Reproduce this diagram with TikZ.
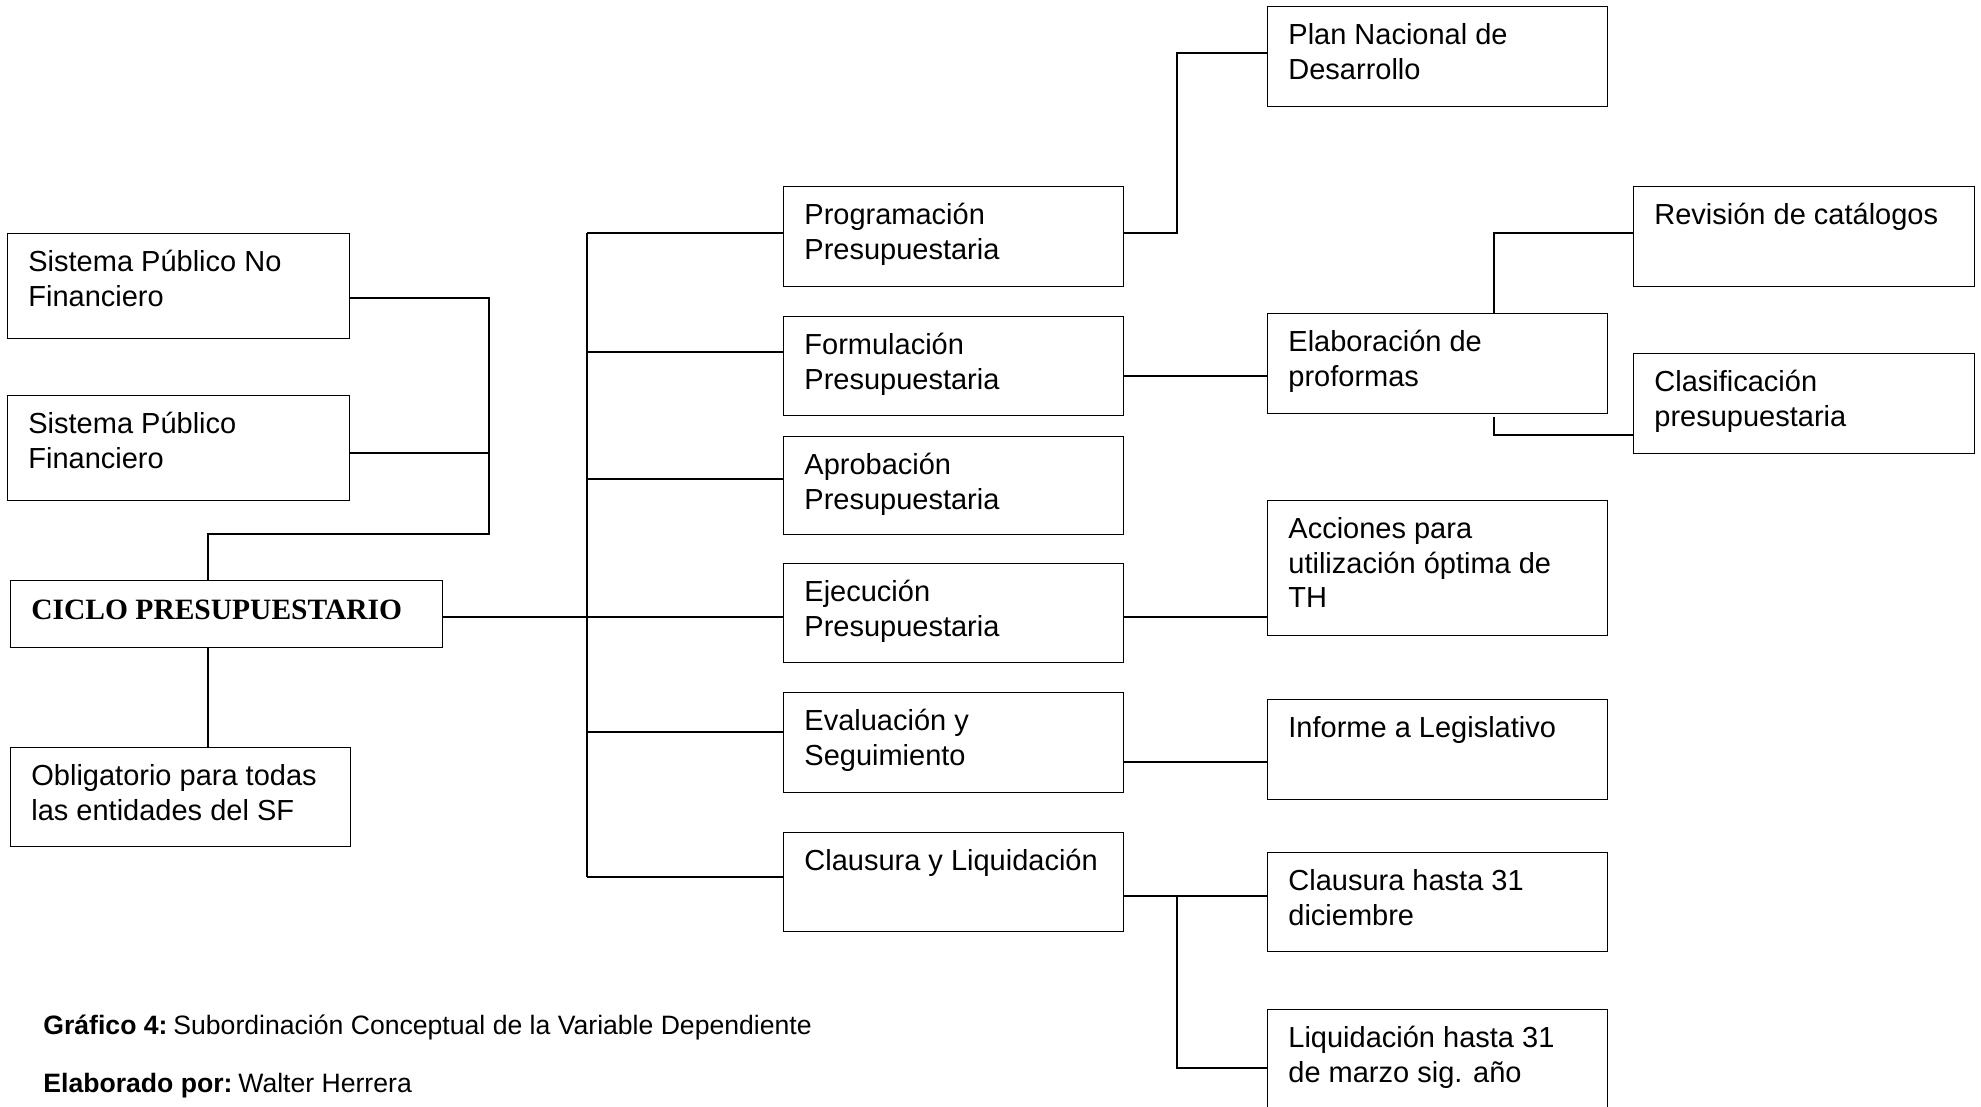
\documentclass[tikz,border=0pt]{standalone}
\usepackage{fontspec}
\setmainfont{Liberation Sans}
\newfontfamily\timesfam{Liberation Serif}

\tikzset{
  box/.style={draw=black, line width=0.7pt, inner sep=0pt, anchor=north west},
  txt/.style={anchor=base west, inner sep=0pt, font=\fontsize{14.5pt}{17.15pt}\selectfont},
  capt/.style={anchor=base west, inner sep=0pt, font=\fontsize{13.3pt}{16pt}\selectfont},
  link/.style={draw=black, line width=0.8pt},
}

% text lines, first baseline is the reference point
\newcommand\mlines[1]{\begin{tabular}[t]{@{}l@{}}#1\end{tabular}}

% \boxat{name}{x1}{y1}{x2}{y2}{text}: framed box with its text in the top-left corner
\newcommand\boxat[6]{%
  \node[box, minimum width={(#4-#2)*0.5pt}, minimum height={(#5-#3)*0.5pt}] (#1) at (#2,#3) {};
  \node[txt] (#1-t) at ([shift={(21,38.8)}]#1.north west) {\mlines{#6}};
}

\begin{document}
\begin{tikzpicture}[x=0.5pt, y=-0.5pt]
\useasboundingbox (0,0) rectangle (1981,1107);
\clip (0,0) rectangle (1981,1107);

% left column
\boxat{spnf}{7}{233}{349}{338}{Sistema Público No\\Financiero}
\boxat{spf}{7}{395}{349}{500}{Sistema Público\\Financiero}
\node[box, minimum width={432*0.5pt}, minimum height={67*0.5pt}] (cic) at (10,580) {};
\node[anchor=base west, inner sep=0pt, font=\fontsize{14.75pt}{17pt}\selectfont\timesfam\bfseries]
  (cic-t) at ([shift={(21,39)}]cic.north west) {CICLO PRESUPUESTARIO};
\boxat{obl}{10}{747}{350}{846}{Obligatorio para todas\\las entidades del SF}

% phases of the cycle
\boxat{prog}{783}{186}{1123}{286}{Programación\\Presupuestaria}
\boxat{form}{783}{316}{1123}{415}{Formulación\\Presupuestaria}
\boxat{apro}{783}{436}{1123}{534}{Aprobación\\Presupuestaria}
\boxat{ejec}{783}{563}{1123}{662}{Ejecución\\Presupuestaria}
\boxat{eval}{783}{692}{1123}{792}{Evaluación y\\Seguimiento}
\boxat{claus}{783}{832}{1123}{931}{Clausura y Liquidación}

% details of each phase
\boxat{plan}{1267}{6}{1607}{106}{Plan Nacional de\\Desarrollo}
\boxat{elab}{1267}{313}{1607}{413}{Elaboración de\\proformas}
\boxat{acc}{1267}{500}{1607}{635}{Acciones para\\utilización óptima de\\TH}
\boxat{inf}{1267}{699}{1607}{799}{Informe a Legislativo}
\boxat{clh}{1267}{852}{1607}{951}{Clausura hasta 31\\diciembre}
\boxat{liq}{1267}{1009}{1607}{1140}{Liquidación hasta 31\\de marzo sig. año}
\boxat{rev}{1633}{186}{1974}{286}{Revisión de catálogos}
\boxat{clas}{1633}{353}{1974}{453}{Clasificación\\presupuestaria}

% junction points
\coordinate (jA) at (489,298);
\coordinate (jB) at (489,453);
\coordinate (jC) at (489,534);
\coordinate (jD) at (208,534);
\coordinate (s1) at (587,233);
\coordinate (s2) at (587,352);
\coordinate (s3) at (587,479);
\coordinate (s4) at (587,617);
\coordinate (s5) at (587,732);
\coordinate (s6) at (587,877);
\coordinate (k1) at (1177,233);
\coordinate (k2) at (1177,53);
\coordinate (k3) at (1195,376);
\coordinate (k4) at (1494,233);
\coordinate (k5) at (1494,435);
\coordinate (k6) at (1195,762);
\coordinate (k7) at (1177,896);
\coordinate (k8) at (1177,1068);

% left tree
\draw[link] (jA -| spnf.east) -- (jA) -- (jC) -- (jD) -- (jD |- cic.north);
\draw[link] (jB -| spf.east) -- (jB);
\draw[link] (jD |- cic.south) -- (jD |- obl.north);

% spine and phase branches
\draw[link] (s1) -- (s6);
\draw[link] (cic.east |- s4) -- (s4 -| ejec.west);
\draw[link] (s1) -- (s1 -| prog.west);
\draw[link] (s2) -- (s2 -| form.west);
\draw[link] (s3) -- (s3 -| apro.west);
\draw[link] (s5) -- (s5 -| eval.west);
\draw[link] (s6) -- (s6 -| claus.west);

% phase details
\draw[link] (k1 -| prog.east) -- (k1) -- (k2) -- (k2 -| plan.west);
\draw[link] (k3 -| form.east) -- (k3 -| elab.west);
\draw[link] (k4 |- elab.north) -- (k4) -- (k4 -| rev.west);
\draw[link] ([yshift=-1.5pt]k5 |- elab.south) -- (k5) -- (k5 -| clas.west);
\draw[link] (s4 -| ejec.east) -- (s4 -| acc.west);
\draw[link] (k6 -| eval.east) -- (k6 -| inf.west);
\draw[link] (k7 -| claus.east) -- (k7 -| clh.west);
\draw[link] (k7) -- (k8) -- (k8 -| liq.west);

% caption
\node[capt] (cap1) at (43,1034) {\textbf{Gráfico 4:}\hspace{0.22em}Subordinación Conceptual de la Variable Dependiente};
\node[capt] (cap2) at (43,1092) {\textbf{Elaborado por:}\hspace{0.22em}Walter Herrera};
\end{tikzpicture}
\end{document}
